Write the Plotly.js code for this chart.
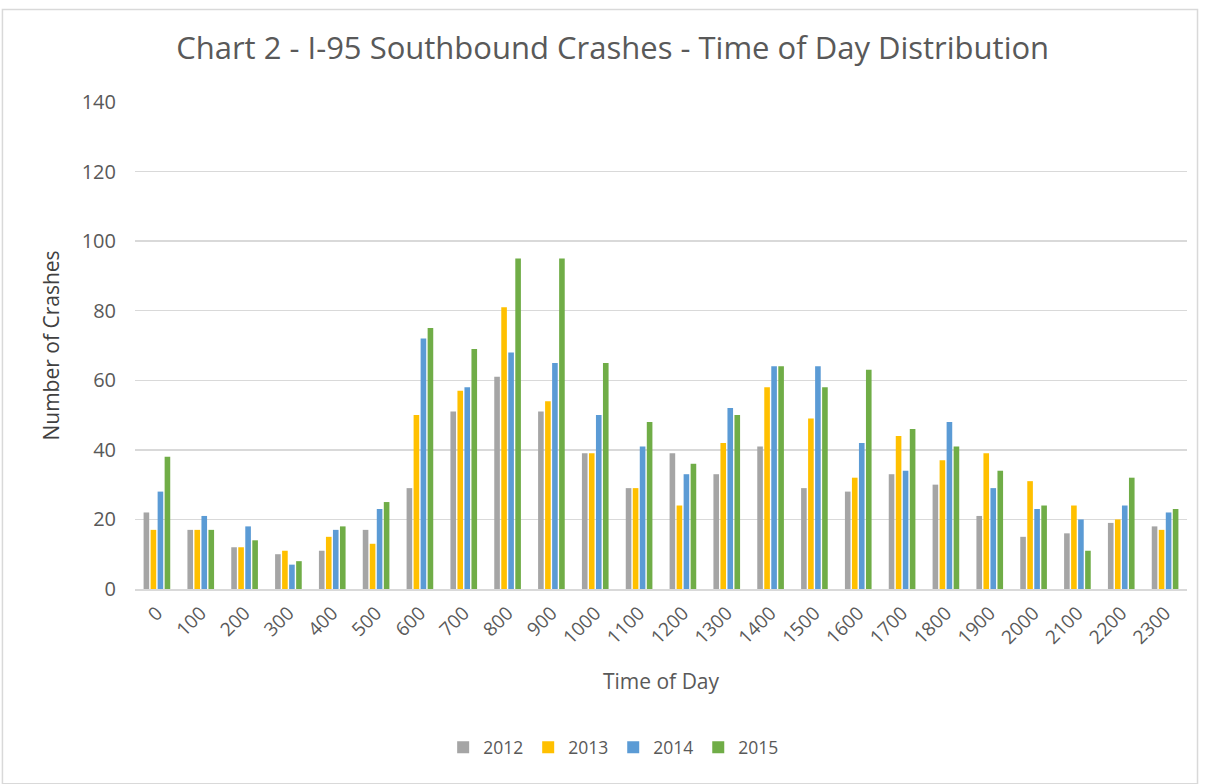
<!DOCTYPE html>
<html>
<head>
<meta charset="utf-8">
<script src="https://cdn.plot.ly/plotly-3.0.1.min.js"></script>
<style>html,body{margin:0;padding:0;background:#fff;}#chart{width:1206px;height:784px;}</style>
</head>
<body>
<div id="chart"></div>
<script>
var hours = ['0','100','200','300','400','500','600','700','800','900','1000','1100','1200','1300','1400','1500','1600','1700','1800','1900','2000','2100','2200','2300'];
var y2012 = [22,17,12,10,11,17,29,51,61,51,39,29,39,33,41,29,28,33,30,21,15,16,19,18];
var y2013 = [17,17,12,11,15,13,50,57,81,54,39,29,24,42,58,49,32,44,37,39,31,24,20,17];
var y2014 = [28,21,18,7,17,23,72,58,68,65,50,41,33,52,64,64,42,34,48,29,23,20,24,22];
var y2015 = [38,17,14,8,18,25,75,69,95,95,65,48,36,50,64,58,63,46,41,34,24,11,32,23];
var seriesNames = ['2012','2013','2014','2015'];
var colors = ['#a5a5a5','#ffc000','#5b9bd5','#70ad47'];
var vals = [y2012,y2013,y2014,y2015];
var traces = vals.map(function(v,i){
  return {type:'bar', name:seriesNames[i], x:hours, y:v, marker:{color:colors[i]}, hoverinfo:'x+y+name'};
});
var font = "'Open Sans', 'Noto Sans', sans-serif";
var layout = {
  width:1206, height:784,
  margin:{l:135, r:19, t:102, b:195},
  paper_bgcolor:'#fff', plot_bgcolor:'#fff',
  font:{family:font, color:'#595959', size:18},
  title:{text:'Chart 2 - I-95 Southbound Crashes - Time of Day Distribution', font:{size:31, color:'#595959', family:font}, x:0.508, xanchor:'center', y:0.938, yanchor:'middle'},
  barmode:'group', bargap:0.36, bargroupgap:0.2,
  xaxis:{type:'category', tickangle:-45, tickfont:{size:19, color:'#595959'}, showgrid:false, showline:true, linecolor:'#d9d9d9', linewidth:1.5, ticks:'', ticklabelstandoff:4,
    title:{text:'Time of Day', font:{size:21, color:'#595959'}, standoff:26}},
  yaxis:{range:[0,140], dtick:20, tickfont:{size:20, color:'#595959'}, gridcolor:'#d9d9d9', gridwidth:1.5, zeroline:false, showline:false, ticks:'', ticklen:0, ticklabelstandoff:18,
    title:{text:'Number of Crashes', font:{size:21, color:'#404040'}, standoff:16}},
  legend:{orientation:'h', x:0.455, xanchor:'center', y:-0.325, yanchor:'middle', font:{size:17.5, color:'#595959'}, traceorder:'normal', itemwidth:30},
  showlegend:true,
  shapes:[{type:'rect', xref:'paper', yref:'paper', x0:-0.126, x1:1.01, y0:-0.40, y1:1.19, line:{color:'#d9d9d9', width:1.5}, fillcolor:'rgba(0,0,0,0)'}]
};
Plotly.newPlot('chart', traces, layout, {displayModeBar:false, staticPlot:true});
</script>
</body>
</html>
